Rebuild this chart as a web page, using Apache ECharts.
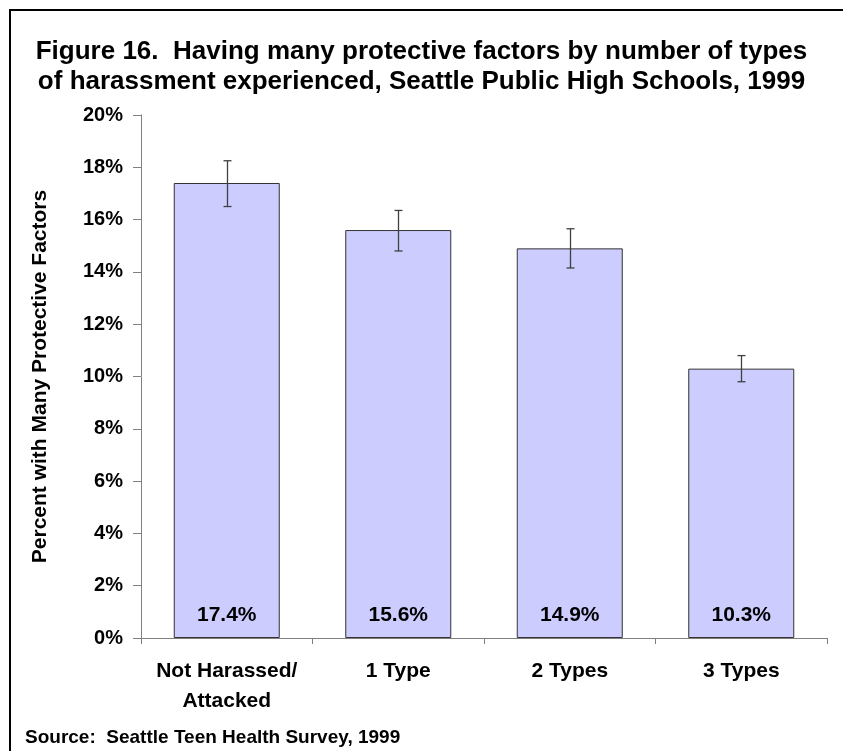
<!DOCTYPE html>
<html>
<head>
<meta charset="utf-8">
<script src="https://cdn.jsdelivr.net/npm/echarts@6/dist/echarts.min.js"></script>
<style>
  html, body { margin: 0; padding: 0; background: #fff; }
  #chart { width: 843px; height: 751px; }
</style>
</head>
<body>
<div id="chart"></div>
<script>
  // categories and values
  var categories = ['Not Harassed/\nAttacked', '1 Type', '2 Types', '3 Types'];
  var percents = [17.4, 15.6, 14.9, 10.3];
  var errLow = [16.5, 14.8, 14.15, 9.8];
  var errHigh = [18.25, 16.35, 15.65, 10.8];

  var font = '"Liberation Sans", Arial, sans-serif';
  var myChart = echarts.init(document.getElementById('chart'));

  var errData = [];
  for (var i = 0; i < categories.length; i++) {
    errData.push([i, errLow[i], errHigh[i]]);
  }

  myChart.setOption({
    animation: false,
    textStyle: { fontFamily: font },
    title: {
      text: 'Figure 16.  Having many protective factors by number of types\nof harassment experienced, Seattle Public High Schools, 1999',
      left: 'center',
      top: 32,
      textStyle: {
        fontFamily: font,
        fontWeight: 'bold',
        fontSize: 26,
        lineHeight: 30,
        color: '#000'
      }
    },
    graphic: [
      {
        type: 'polyline',
        shape: { points: [[10, 760], [10, 10], [850, 10]] },
        style: { stroke: '#000', lineWidth: 2, fill: null }
      },
      {
        type: 'text',
        left: 25,
        top: 728,
        style: {
          text: 'Source:  Seattle Teen Health Survey, 1999',
          font: 'bold 19px ' + font,
          fill: '#000'
        }
      }
    ],
    grid: {
      left: 141,
      right: 16,
      top: 115,
      bottom: 113
    },
    xAxis: {
      type: 'category',
      data: categories,
      axisLine: { lineStyle: { color: '#808080', width: 1 } },
      axisTick: { show: true, length: 6, lineStyle: { color: '#808080' } },
      axisLabel: {
        interval: 0,
        margin: 18,
        color: '#000',
        fontWeight: 'bold',
        fontSize: 21,
        lineHeight: 30,
        fontFamily: font
      }
    },
    yAxis: {
      type: 'value',
      min: 0,
      max: 20,
      interval: 2,
      name: 'Percent with Many Protective Factors',
      nameLocation: 'middle',
      nameGap: 90,
      nameTextStyle: {
        color: '#000',
        fontWeight: 'bold',
        fontSize: 21,
        fontFamily: font
      },
      axisLine: { show: true, lineStyle: { color: '#808080', width: 1 } },
      axisTick: { show: true, length: 8, lineStyle: { color: '#808080' } },
      splitLine: { show: false },
      axisLabel: {
        formatter: '{value}%',
        margin: 18,
        color: '#000',
        fontWeight: 'bold',
        fontSize: 20,
        fontFamily: font
      }
    },
    series: [
      {
        type: 'bar',
        data: percents,
        barWidth: 106,
        itemStyle: {
          color: '#CCCCFF',
          borderColor: '#333333',
          borderWidth: 1
        },
        label: {
          show: true,
          position: 'insideBottom',
          distance: 12,
          formatter: '{c}%',
          color: '#000',
          fontWeight: 'bold',
          fontSize: 21,
          fontFamily: font
        }
      },
      {
        type: 'custom',
        data: errData,
        z: 10,
        renderItem: function (params, api) {
          var lo = api.coord([api.value(0), api.value(1)]);
          var hi = api.coord([api.value(0), api.value(2)]);
          var x = Math.round(lo[0]) + 0.5;
          var half = 4;
          var st = { stroke: '#404040', lineWidth: 1.3 };
          return {
            type: 'group',
            children: [
              { type: 'line', shape: { x1: x, y1: hi[1], x2: x, y2: lo[1] }, style: st },
              { type: 'line', shape: { x1: x - half, y1: hi[1], x2: x + half, y2: hi[1] }, style: st },
              { type: 'line', shape: { x1: x - half, y1: lo[1], x2: x + half, y2: lo[1] }, style: st }
            ]
          };
        }
      }
    ]
  });
</script>
</body>
</html>
